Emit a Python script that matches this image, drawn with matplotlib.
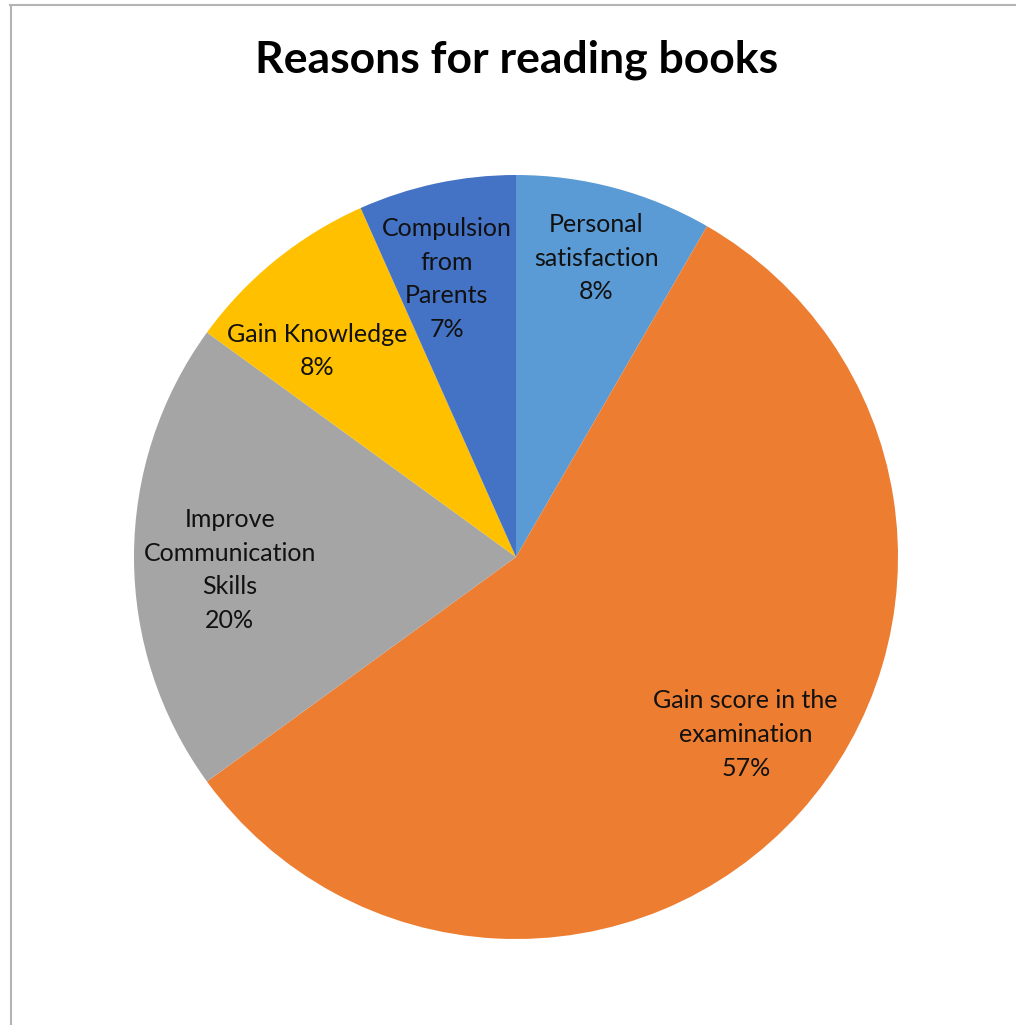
import numpy as np
import matplotlib.pyplot as plt
from matplotlib.lines import Line2D

# survey counts (60 respondents)
categories = ['Personal\nsatisfaction', 'Gain score in the\nexamination', 'Improve\nCommunication\nSkills',
              'Gain Knowledge', 'Compulsion\nfrom\nParents']
counts = [5, 34, 12, 5, 4]
colors = ['#5B9BD5', '#ED7D31', '#A5A5A5', '#FFC000', '#4472C4']
label_dist = [0.81, 0.76, 0.75, 0.75, 0.75]
label_turn = [0, 4.3, 2.6, 5, 2]  # degrees, counterclockwise nudge like excel's placement

W, H = 1016, 1025
fig = plt.figure(figsize=(W / 100, H / 100), dpi=100)
ax = fig.add_axes([0, 0, 1, 1])

cx, cy, r = 516, H - 557, 382
wedges, _ = ax.pie(counts, colors=colors, startangle=90, counterclock=False,
                   center=(cx, cy), radius=r, frame=True)
ax.set_xlim(0, W)
ax.set_ylim(0, H)
ax.set_aspect('equal')
ax.axis('off')

total = sum(counts)
for w, name, n, d, t in zip(wedges, categories, counts, label_dist, label_turn):
    mid = np.deg2rad((w.theta1 + w.theta2) / 2 + t)
    x = cx + d * r * np.cos(mid)
    y = cy + d * r * np.sin(mid)
    ax.text(x, y, f'{name}\n{n / total * 100:.0f}%', ha='center', va='center',
            fontsize=18, family='Lato', linespacing=1.56, color='#111111')

fig.text(0.508, 1 - 72 / H, 'Reasons for reading books', ha='center', va='baseline',
         fontsize=32, fontweight='bold', family='Lato', color='black')

# chart border (only left and top edges visible)
fig.add_artist(Line2D([10.5 / W, 10.5 / W], [0, 1 - 5 / H], color='#b4b4b4', lw=1.5))
fig.add_artist(Line2D([10 / W, 1], [1 - 5 / H, 1 - 5 / H], color='#b4b4b4', lw=1.5))

fig.savefig('out.png', dpi=100, facecolor='white')
